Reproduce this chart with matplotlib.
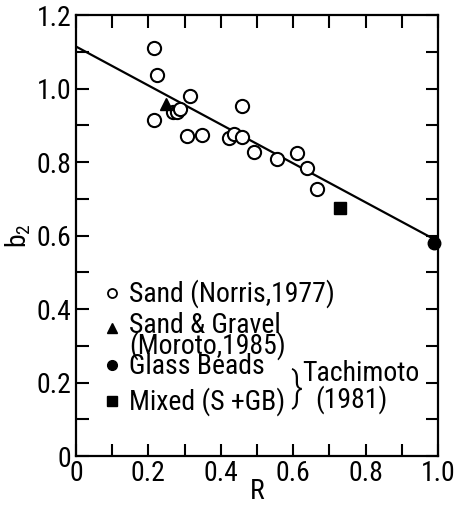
import matplotlib
matplotlib.use("Agg")
import numpy as np
import matplotlib.pyplot as plt
from matplotlib.ticker import MultipleLocator, FixedFormatter, FixedLocator

# Sand (Norris, 1977) - open circles
sand_r = [0.215, 0.225, 0.215, 0.315, 0.269, 0.278, 0.287, 0.308, 0.347,
          0.460, 0.422, 0.438, 0.460, 0.492, 0.556, 0.610, 0.637, 0.667]
sand_b2 = [1.112, 1.037, 0.914, 0.980, 0.937, 0.937, 0.946, 0.872, 0.875,
           0.954, 0.866, 0.878, 0.869, 0.828, 0.810, 0.824, 0.783, 0.726]

# Sand & Gravel (Moroto, 1985)
gravel_r = [0.249]
gravel_b2 = [0.958]

# Glass beads / Mixed (Tachimoto, 1981)
beads_r = [0.989]
beads_b2 = [0.580]
mixed_r = [0.729]
mixed_b2 = [0.676]

# fitted line end points
line_r = [0.0, 1.0]
line_b2 = [1.115, 0.585]

xticks = [0, 0.2, 0.4, 0.6, 0.8, 1.0]
xlabels = ["0", "0.2", "0.4", "0.6", "0.8", "1.0"]
yticks = [0, 0.2, 0.4, 0.6, 0.8, 1.0, 1.2]
ylabels = ["0", "0.2", "0.4", "0.6", "0.8", "1.0", "1.2"]

plt.rcParams['font.family'] = ['Roboto Condensed', 'DejaVu Sans']
plt.rcParams['mathtext.fontset'] = 'custom'
plt.rcParams['mathtext.rm'] = 'Roboto Condensed'
plt.rcParams['mathtext.it'] = 'Roboto Condensed'
FS = 20

fig = plt.figure(figsize=(4.6, 5.08), dpi=100)
ax = fig.add_axes([0.165, 0.102, 0.787, 0.868])

ax.plot(line_r, line_b2, color='black', lw=1.6, zorder=2)
ax.plot(sand_r, sand_b2, 'o', ms=9.5, mfc='white', mec='black', mew=1.5, zorder=3)
ax.plot(gravel_r, gravel_b2, '^', ms=9, color='black', zorder=4)
ax.plot(beads_r, beads_b2, 'o', ms=9, color='black', zorder=4, clip_on=False)
ax.plot(mixed_r, mixed_b2, 's', ms=8.5, color='black', zorder=4)

ax.set_xlim(0, 1.0)
ax.set_ylim(0, 1.2)
ax.xaxis.set_major_locator(FixedLocator(xticks))
ax.xaxis.set_major_formatter(FixedFormatter(xlabels))
ax.yaxis.set_major_locator(FixedLocator(yticks))
ax.yaxis.set_major_formatter(FixedFormatter(ylabels))
ax.xaxis.set_minor_locator(MultipleLocator(0.1))
ax.yaxis.set_minor_locator(MultipleLocator(0.1))
ax.tick_params(which='both', direction='in', top=True, right=True,
               width=1.5, labelsize=FS)
ax.tick_params(which='major', length=9, pad=3)
ax.tick_params(which='minor', length=9)
for s in ax.spines.values():
    s.set_linewidth(1.6)

ax.set_xlabel("R", fontsize=FS, labelpad=-7)
ax.set_ylabel("b$_2$", fontsize=FS, labelpad=3)

# hand-drawn legend inside the axes
tr = ax.transAxes
def fx(px):
    return (px - 76) / 362.0
def fy(py):
    return (456 - py) / 441.0

ax.plot(fx(112), fy(293), 'o', ms=6.5, mfc='white', mec='black', mew=1.3, transform=tr)
ax.text(fx(129), fy(293), "Sand (Norris,1977)", fontsize=FS, va='center', transform=tr)
ax.plot(fx(112), fy(328), '^', ms=7, color='black', transform=tr)
ax.text(fx(129), fy(346), "Sand & Gravel\n(Moroto,1985)\nGlass Beads", fontsize=FS,
        va='center', linespacing=0.66, transform=tr)
ax.plot(fx(112), fy(365), 'o', ms=7, color='black', transform=tr)
ax.plot(fx(112), fy(401), 's', ms=6.5, color='black', transform=tr)
ax.text(fx(129), fy(401), "Mixed (S +GB)", fontsize=FS, va='center', transform=tr)
ax.text(fx(290), fy(389), "}", fontsize=30, va='center', transform=tr,
        fontweight='light')
ax.text(fx(302), fy(373), "Tachimoto", fontsize=FS, va='center', transform=tr)
ax.text(fx(315), fy(399), "(1981)", fontsize=FS, va='center', transform=tr)

fig.savefig("out.png", dpi=100)
